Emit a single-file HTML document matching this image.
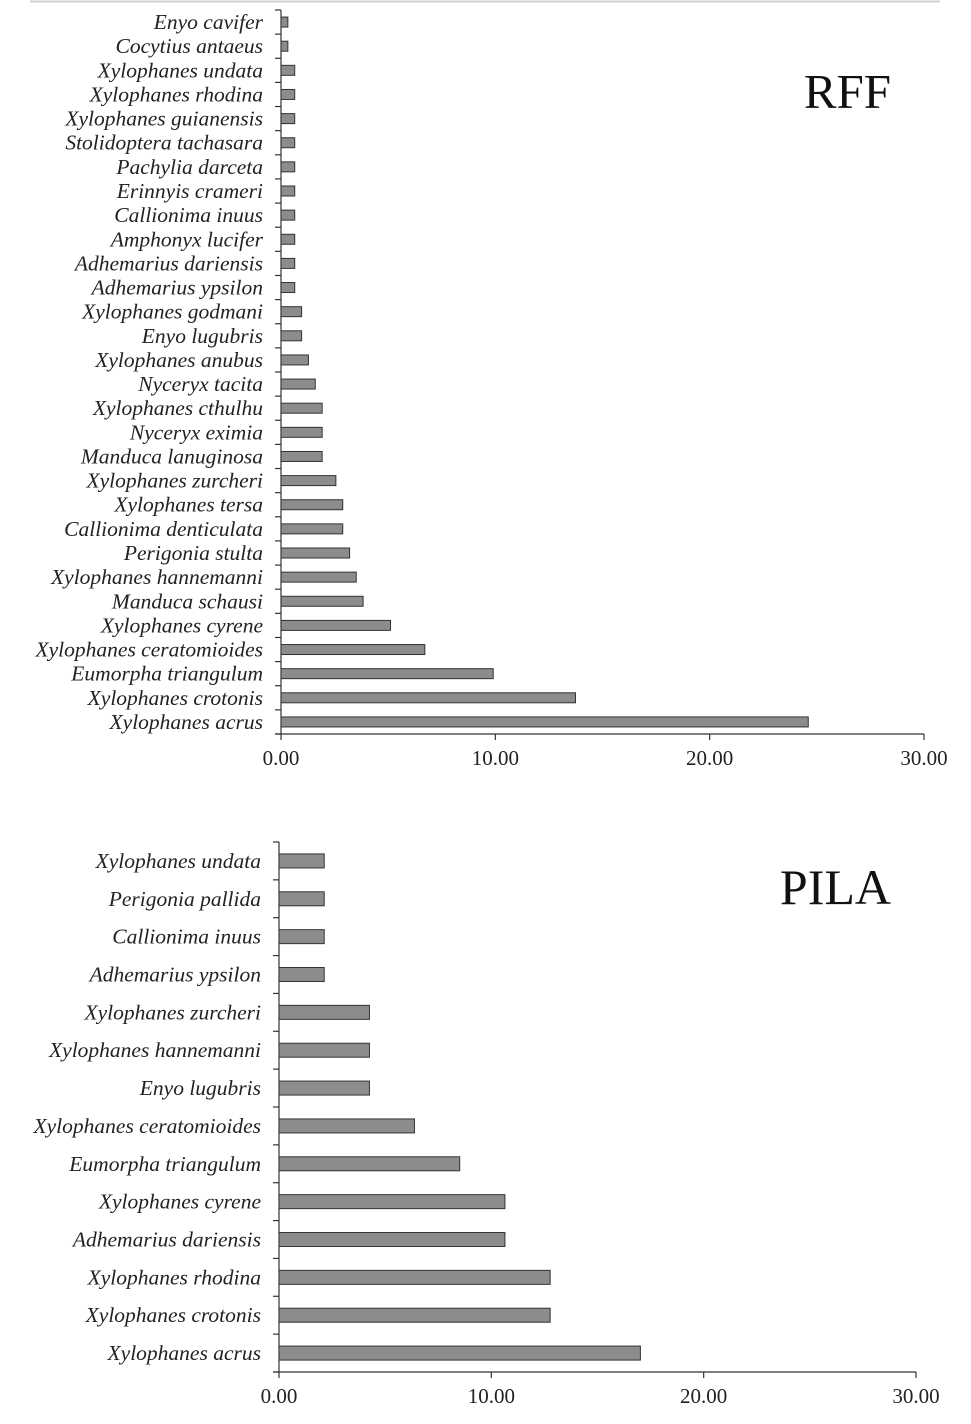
<!DOCTYPE html>
<html><head><meta charset="utf-8"><style>
body{margin:0;background:#fff;}
svg{display:block;font-family:"Liberation Serif",serif;}
</style></head><body>
<svg id="c" width="971" height="1424">
<line x1="30" y1="1.5" x2="940" y2="1.5" stroke="#d0d0d0" stroke-width="2"/>
</svg>
<script>
const rffCategories=["Enyo cavifer","Cocytius antaeus","Xylophanes undata","Xylophanes rhodina","Xylophanes guianensis","Stolidoptera tachasara","Pachylia darceta","Erinnyis crameri","Callionima inuus","Amphonyx lucifer","Adhemarius dariensis","Adhemarius ypsilon","Xylophanes godmani","Enyo lugubris","Xylophanes anubus","Nyceryx tacita","Xylophanes cthulhu","Nyceryx eximia","Manduca lanuginosa","Xylophanes zurcheri","Xylophanes tersa","Callionima denticulata","Perigonia stulta","Xylophanes hannemanni","Manduca schausi","Xylophanes cyrene","Xylophanes ceratomioides","Eumorpha triangulum","Xylophanes crotonis","Xylophanes acrus"];
const rffValues=[0.32,0.32,0.64,0.64,0.64,0.64,0.64,0.64,0.64,0.64,0.64,0.64,0.96,0.96,1.28,1.6,1.92,1.92,1.92,2.56,2.88,2.88,3.2,3.51,3.83,5.11,6.71,9.9,13.74,24.6];
const pilaCategories=["Xylophanes undata","Perigonia pallida","Callionima inuus","Adhemarius ypsilon","Xylophanes zurcheri","Xylophanes hannemanni","Enyo lugubris","Xylophanes ceratomioides","Eumorpha triangulum","Xylophanes cyrene","Adhemarius dariensis","Xylophanes rhodina","Xylophanes crotonis","Xylophanes acrus"];
const pilaValues=[2.13,2.13,2.13,2.13,4.26,4.26,4.26,6.38,8.51,10.64,10.64,12.77,12.77,17.02];
const tickValues=[0,10,20,30];
const tickLabels=["0.00","10.00","20.00","30.00"];
const NS="http://www.w3.org/2000/svg";
const svg=document.getElementById('c');
function mk(t,a,p){const e=document.createElementNS(NS,t);for(const k in a)e.setAttribute(k,a[k]);(p||svg).appendChild(e);return e;}
function chart(cfg,cats,vals,prefix){
  const g=mk('g',{});
  
  
  const xs=v=>cfg.x0+(v/30)*(cfg.x1-cfg.x0);
  const band=(cfg.yb-cfg.yt)/cats.length;
  const ax=mk('line',{x1:cfg.x0,y1:cfg.yt,x2:cfg.x0,y2:cfg.yb,stroke:'#333','stroke-width':1.2},g);
  
  
  const xa=mk('line',{x1:cfg.x0-6,y1:cfg.yb,x2:cfg.x1,y2:cfg.yb,stroke:'#333','stroke-width':1.2},g);
  
  
  for(let i=0;i<=cats.length;i++){
    const y=cfg.yt+i*band;
    mk('line',{x1:cfg.x0-6,y1:y,x2:cfg.x0,y2:y,stroke:'#333','stroke-width':1.2},g);
  }
  cats.forEach((c,i)=>{
    const yc=cfg.yt+(i+0.5)*band;
    const r=mk('rect',{x:cfg.x0,y:yc-cfg.bh/2,width:xs(vals[i])-cfg.x0,height:cfg.bh,fill:'#8c8c8c',stroke:'#333','stroke-width':1},g);
    
    
    const t=mk('text',{x:cfg.x0-18,y:yc+7,'text-anchor':'end','font-size':21.5,'font-style':'italic',fill:'#222'},g);
    t.textContent=c;
    
    
  });
  tickValues.forEach((v,i)=>{
    const x=xs(v);
    mk('line',{x1:x,y1:cfg.yb,x2:x,y2:cfg.yb+6,stroke:'#333','stroke-width':1.2},g);
    const t=mk('text',{x:x,y:cfg.yb+31,'text-anchor':'middle','font-size':21,fill:'#222'},g);
    t.textContent=tickLabels[i];
    
    
  });
  const ti=mk('text',{x:cfg.tx,y:cfg.ty,'text-anchor':'end','font-size':cfg.ts,fill:'#111'},g);
  ti.textContent=prefix.toUpperCase();
  
  
}
chart({x0:281,x1:924,yt:10,yb:734,bh:10,tx:891,ty:108,ts:49},rffCategories,rffValues,'rff');
chart({x0:279,x1:916,yt:842,yb:1372,bh:14,tx:891,ty:904,ts:50},pilaCategories,pilaValues,'pila');
</script>
</body></html>
